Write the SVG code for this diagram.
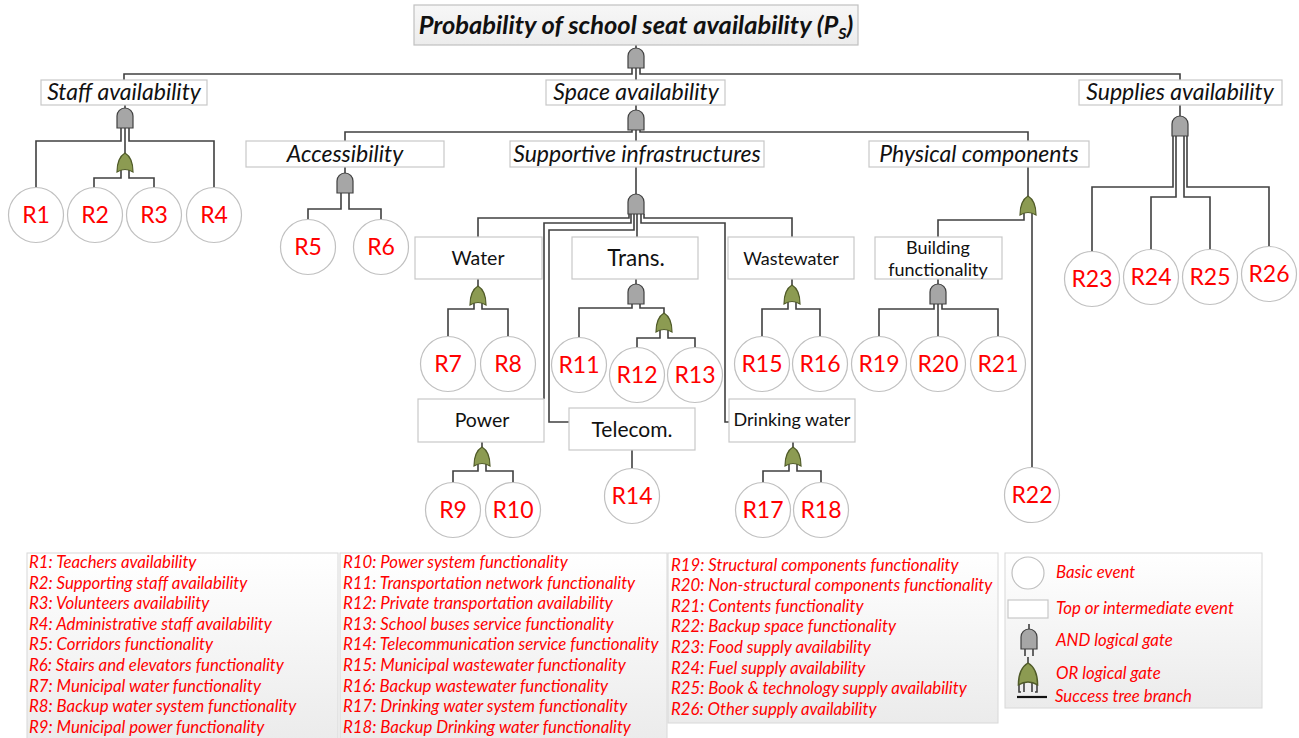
<svg xmlns="http://www.w3.org/2000/svg" xmlns:xlink="http://www.w3.org/1999/xlink" width="1299" height="738" viewBox="0 0 1299 738">
<style>
  .box{fill:#ffffff;stroke:#c8c8c8;stroke-width:1.2}
  .tbox{fill:url(#titleGrad);stroke:#c0c0c0;stroke-width:1.2}
  .circ{fill:#ffffff;stroke:#c0c0c0;stroke-width:1.2}
  .lbl{font-family:Lato,"Liberation Sans",sans-serif;fill:#111;text-anchor:middle}
  .it{font-style:italic;font-size:23px}
  .up{font-size:19.5px}
  .sm{font-size:18px}
  .rt{font-family:Lato,"Liberation Sans",sans-serif;font-size:23px;fill:#ff0000;text-anchor:middle}
  .leg{font-family:Lato,"Liberation Sans",sans-serif;font-size:16.8px;font-style:italic;fill:#ff0000}
  .wire{fill:none;stroke:#404040;stroke-width:1.6}
  .andg{fill:#a6a6a6;stroke:#404040;stroke-width:1.2}
  .org{fill:#8c9b52;stroke:#4f5a28;stroke-width:1.2}
  .legbox{fill:url(#legGrad);stroke:#d8d8d8;stroke-width:1}
</style>
<defs>
  <linearGradient id="legGrad" x1="0" y1="0" x2="0" y2="1">
    <stop offset="0" stop-color="#ffffff"/>
    <stop offset="1" stop-color="#ebebeb"/>
  </linearGradient>
  <linearGradient id="titleGrad" x1="0" y1="0" x2="0" y2="1">
    <stop offset="0" stop-color="#f7f7f7"/>
    <stop offset="1" stop-color="#ececec"/>
  </linearGradient>
  <path id="andg" class="andg" d="M-8,20 V8 A8,8 0 0 1 8,8 V20 Z"/>
  <path id="org" class="org" d="M0,0 C5,3 8,9 8,19 Q0,14 -8,19 C-8,9 -5,3 0,0 Z"/>
</defs>

<!-- legend backgrounds -->
<g id="legend-boxes">
  <rect class="legbox" x="27" y="553" width="311" height="190"/>
  <rect class="legbox" x="340" y="553" width="327" height="190"/>
  <rect class="legbox" x="668" y="553" width="330" height="170"/>
  <rect class="legbox" x="1005" y="553" width="257" height="155"/>
</g>

<!-- connectors -->
<g id="connectors" class="wire">
  <path d="M636,45 V48"/>
  <path d="M632,68 V74 H124 V80"/>
  <path d="M640,68 V74 H1180 V80"/>
  <path d="M636,68 V80"/>

  <path d="M125,105 V108"/>
  <path d="M121,128 V141 H36 V188"/>
  <path d="M129,128 V141 H214 V188"/>
  <path d="M125,128 V153"/>
  <path d="M121,170 V178 H94 V188"/>
  <path d="M129,170 V178 H154 V188"/>

  <path d="M636,105 V110"/>
  <path d="M632,130 V132 H345 V141"/>
  <path d="M640,130 V132 H1028 V141"/>
  <path d="M636,130 V141"/>

  <path d="M345,167 V173"/>
  <path d="M341,193 V209 H308 V220"/>
  <path d="M349,193 V209 H381 V220"/>

  <path d="M636,167 V194"/>
  <path d="M629,214 V218 H478 V237"/>
  <path d="M631,214 V223 H544 V399"/>
  <path d="M634,214 V230 H549 V422 H569"/>
  <path d="M637,214 V237"/>
  <path d="M641,214 V223 H725 V422 H729"/>
  <path d="M644,214 V218 H792 V237"/>

  <path d="M478,279 V286"/>
  <path d="M474,303 V309 H448 V337"/>
  <path d="M482,303 V309 H508 V337"/>

  <path d="M636,279 V284"/>
  <path d="M632,304 V308 H579 V338"/>
  <path d="M640,304 V308 H664 V313"/>
  <path d="M660,330 V338 H637 V348"/>
  <path d="M668,330 V338 H695 V348"/>

  <path d="M792,279 V285"/>
  <path d="M788,302 V309 H762 V337"/>
  <path d="M796,302 V309 H820 V337"/>

  <path d="M482,442 V447"/>
  <path d="M478,464 V471 H453 V483"/>
  <path d="M486,464 V471 H513 V483"/>

  <path d="M632,450 V469"/>

  <path d="M793,442 V447"/>
  <path d="M789,464 V471 H763 V483"/>
  <path d="M797,464 V471 H821 V483"/>

  <path d="M1028,167 V196"/>
  <path d="M1024,213 V220 H938 V237"/>
  <path d="M1032,213 V468"/>

  <path d="M938,279 V284"/>
  <path d="M934,304 V309 H879 V337"/>
  <path d="M938,304 V337"/>
  <path d="M942,304 V309 H998 V337"/>

  <path d="M1180,105 V116"/>
  <path d="M1173,136 V187 H1092 V252"/>
  <path d="M1176,136 V197 H1151 V250"/>
  <path d="M1184,136 V197 H1210 V250"/>
  <path d="M1187,136 V187 H1269 V247"/>
</g>

<!-- gates -->
<g id="gates">
  <g id="gate-top"><use xlink:href="#andg" x="636" y="48"/></g>
  <g id="gate-staff-and"><use xlink:href="#andg" x="125" y="108"/></g>
  <g id="gate-staff-or"><use xlink:href="#org" x="125" y="153"/></g>
  <g id="gate-space"><use xlink:href="#andg" x="636" y="110"/></g>
  <g id="gate-access"><use xlink:href="#andg" x="345" y="173"/></g>
  <g id="gate-support"><use xlink:href="#andg" x="636" y="194"/></g>
  <g id="gate-water"><use xlink:href="#org" x="478" y="286"/></g>
  <g id="gate-trans-and"><use xlink:href="#andg" x="636" y="284"/></g>
  <g id="gate-trans-or"><use xlink:href="#org" x="664" y="313"/></g>
  <g id="gate-waste"><use xlink:href="#org" x="792" y="285"/></g>
  <g id="gate-power"><use xlink:href="#org" x="482" y="447"/></g>
  <g id="gate-drink"><use xlink:href="#org" x="793" y="447"/></g>
  <g id="gate-phys"><use xlink:href="#org" x="1028" y="196"/></g>
  <g id="gate-build"><use xlink:href="#andg" x="938" y="284"/></g>
  <g id="gate-supplies"><use xlink:href="#andg" x="1180" y="116"/></g>
</g>

<!-- intermediate nodes -->
<g id="node-title">
  <rect class="tbox" x="414" y="5" width="444" height="40"/>
  <text class="lbl" x="636" y="34" font-size="25.5" font-weight="bold" font-style="italic">Probability of school seat availability (P<tspan font-size="16" dy="5">S</tspan><tspan dy="-5">)</tspan></text>
</g>
<g id="node-staff">
  <rect class="box" x="41" y="80" width="166" height="25"/>
  <text class="lbl it" x="124" y="100">Staff availability</text>
</g>
<g id="node-space">
  <rect class="box" x="546" y="80" width="179" height="25"/>
  <text class="lbl it" x="636" y="100">Space availability</text>
</g>
<g id="node-supplies">
  <rect class="box" x="1079" y="80" width="203" height="25"/>
  <text class="lbl it" x="1180" y="100">Supplies availability</text>
</g>
<g id="node-access">
  <rect class="box" x="246" y="141" width="198" height="26"/>
  <text class="lbl it" x="345" y="162">Accessibility</text>
</g>
<g id="node-support">
  <rect class="box" x="510" y="141" width="254" height="26"/>
  <text class="lbl it" x="637" y="162">Supportive infrastructures</text>
</g>
<g id="node-phys">
  <rect class="box" x="869" y="141" width="220" height="26"/>
  <text class="lbl it" x="979" y="162">Physical components</text>
</g>
<g id="node-water">
  <rect class="box" x="415" y="237" width="127" height="42"/>
  <text class="lbl up" x="478" y="265">Water</text>
</g>
<g id="node-trans">
  <rect class="box" x="572" y="237" width="126" height="42"/>
  <text class="lbl" x="636" y="266" font-size="22.5">Trans.</text>
</g>
<g id="node-waste">
  <rect class="box" x="728" y="237" width="126" height="42"/>
  <text class="lbl sm" x="791" y="265">Wastewater</text>
</g>
<g id="node-building">
  <rect class="box" x="875" y="237" width="127" height="42"/>
  <text class="lbl sm" x="938" y="254">Building</text>
  <text class="lbl sm" x="938" y="276">functionality</text>
</g>
<g id="node-power">
  <rect class="box" x="418" y="399" width="126" height="43"/>
  <text class="lbl up" x="482" y="427">Power</text>
</g>
<g id="node-telecom">
  <rect class="box" x="569" y="408" width="126" height="42"/>
  <text class="lbl" x="632" y="437" font-size="21">Telecom.</text>
</g>
<g id="node-drink">
  <rect class="box" x="729" y="399" width="126" height="43"/>
  <text class="lbl sm" x="792" y="426">Drinking water</text>
</g>

<!-- basic events -->
<g id="R1"><circle class="circ" cx="36" cy="215" r="27.5"/><text class="rt" x="36" y="223">R1</text></g>
<g id="R2"><circle class="circ" cx="95" cy="215" r="27.5"/><text class="rt" x="95" y="223">R2</text></g>
<g id="R3"><circle class="circ" cx="154" cy="215" r="27.5"/><text class="rt" x="154" y="223">R3</text></g>
<g id="R4"><circle class="circ" cx="214" cy="215" r="27.5"/><text class="rt" x="214" y="223">R4</text></g>
<g id="R5"><circle class="circ" cx="308" cy="247" r="27.5"/><text class="rt" x="308" y="255">R5</text></g>
<g id="R6"><circle class="circ" cx="381" cy="247" r="27.5"/><text class="rt" x="381" y="255">R6</text></g>
<g id="R7"><circle class="circ" cx="448" cy="364" r="27.5"/><text class="rt" x="448" y="372">R7</text></g>
<g id="R8"><circle class="circ" cx="508" cy="364" r="27.5"/><text class="rt" x="508" y="372">R8</text></g>
<g id="R9"><circle class="circ" cx="453" cy="510" r="27.5"/><text class="rt" x="453" y="518">R9</text></g>
<g id="R10"><circle class="circ" cx="513" cy="510" r="27.5"/><text class="rt" x="513" y="518">R10</text></g>
<g id="R11"><circle class="circ" cx="579" cy="365" r="27.5"/><text class="rt" x="579" y="373">R11</text></g>
<g id="R12"><circle class="circ" cx="637" cy="375" r="27.5"/><text class="rt" x="637" y="383">R12</text></g>
<g id="R13"><circle class="circ" cx="695" cy="375" r="27.5"/><text class="rt" x="695" y="383">R13</text></g>
<g id="R14"><circle class="circ" cx="632" cy="496" r="27.5"/><text class="rt" x="632" y="504">R14</text></g>
<g id="R15"><circle class="circ" cx="762" cy="364" r="27.5"/><text class="rt" x="762" y="372">R15</text></g>
<g id="R16"><circle class="circ" cx="820" cy="364" r="27.5"/><text class="rt" x="820" y="372">R16</text></g>
<g id="R17"><circle class="circ" cx="763" cy="510" r="27.5"/><text class="rt" x="763" y="518">R17</text></g>
<g id="R18"><circle class="circ" cx="821" cy="510" r="27.5"/><text class="rt" x="821" y="518">R18</text></g>
<g id="R19"><circle class="circ" cx="879" cy="364" r="27.5"/><text class="rt" x="879" y="372">R19</text></g>
<g id="R20"><circle class="circ" cx="938" cy="364" r="27.5"/><text class="rt" x="938" y="372">R20</text></g>
<g id="R21"><circle class="circ" cx="998" cy="364" r="27.5"/><text class="rt" x="998" y="372">R21</text></g>
<g id="R22"><circle class="circ" cx="1032" cy="495" r="27.5"/><text class="rt" x="1032" y="503">R22</text></g>
<g id="R23"><circle class="circ" cx="1092" cy="279" r="27.5"/><text class="rt" x="1092" y="287">R23</text></g>
<g id="R24"><circle class="circ" cx="1151" cy="277" r="27.5"/><text class="rt" x="1151" y="285">R24</text></g>
<g id="R25"><circle class="circ" cx="1210" cy="277" r="27.5"/><text class="rt" x="1210" y="285">R25</text></g>
<g id="R26"><circle class="circ" cx="1269" cy="274" r="27.5"/><text class="rt" x="1269" y="282">R26</text></g>

<!-- legend texts -->
<g id="legend-col1" class="leg">
  <text x="29" y="568">R1: Teachers availability</text>
  <text x="29" y="588.6">R2: Supporting staff availability</text>
  <text x="29" y="609.2">R3: Volunteers availability</text>
  <text x="29" y="629.8">R4: Administrative staff availability</text>
  <text x="29" y="650.4">R5: Corridors functionality</text>
  <text x="29" y="671">R6: Stairs and elevators functionality</text>
  <text x="29" y="691.6">R7: Municipal water functionality</text>
  <text x="29" y="712.2">R8: Backup water system functionality</text>
  <text x="29" y="732.8">R9: Municipal power functionality</text>
</g>
<g id="legend-col2" class="leg">
  <text x="343" y="568">R10: Power system functionality</text>
  <text x="343" y="588.6">R11: Transportation network functionality</text>
  <text x="343" y="609.2">R12: Private transportation availability</text>
  <text x="343" y="629.8">R13: School buses service functionality</text>
  <text x="343" y="650.4">R14: Telecommunication service functionality</text>
  <text x="343" y="671">R15: Municipal wastewater functionality</text>
  <text x="343" y="691.6">R16: Backup wastewater functionality</text>
  <text x="343" y="712.2">R17: Drinking water system functionality</text>
  <text x="343" y="732.8">R18: Backup Drinking water functionality</text>
</g>
<g id="legend-col3" class="leg">
  <text x="671" y="570.5">R19: Structural components functionality</text>
  <text x="671" y="591.1">R20: Non-structural components functionality</text>
  <text x="671" y="611.7">R21: Contents functionality</text>
  <text x="671" y="632.3">R22: Backup space functionality</text>
  <text x="671" y="652.9">R23: Food supply availability</text>
  <text x="671" y="673.5">R24: Fuel supply availability</text>
  <text x="671" y="694.1">R25: Book &amp; technology supply availability</text>
  <text x="671" y="714.7">R26: Other supply availability</text>
</g>
<g id="legend-symbols">
  <circle class="circ" cx="1028" cy="573" r="16"/>
  <rect class="box" x="1008" y="600" width="40" height="18"/>
  <path class="wire" d="M1029,624 V629 M1025,648 V656 M1033,648 V656"/>
  <use xlink:href="#andg" x="1029" y="629"/>
  <path class="wire" d="M1028,657 V663 M1019,683 V692 H1021 M1024,683 V692 M1032,683 V692 M1037,683 V692 H1035"/>
  <g transform="translate(1028,663) scale(1.2,1.15)"><use xlink:href="#org"/></g>
  <path d="M1017,697 H1047" stroke="#111" stroke-width="2.2"/>
  <g class="leg">
    <text x="1056" y="578">Basic event</text>
    <text x="1056" y="614">Top or intermediate event</text>
    <text x="1056" y="646">AND logical gate</text>
    <text x="1056" y="679">OR logical gate</text>
    <text x="1055" y="702">Success tree branch</text>
  </g>
</g>
</svg>
